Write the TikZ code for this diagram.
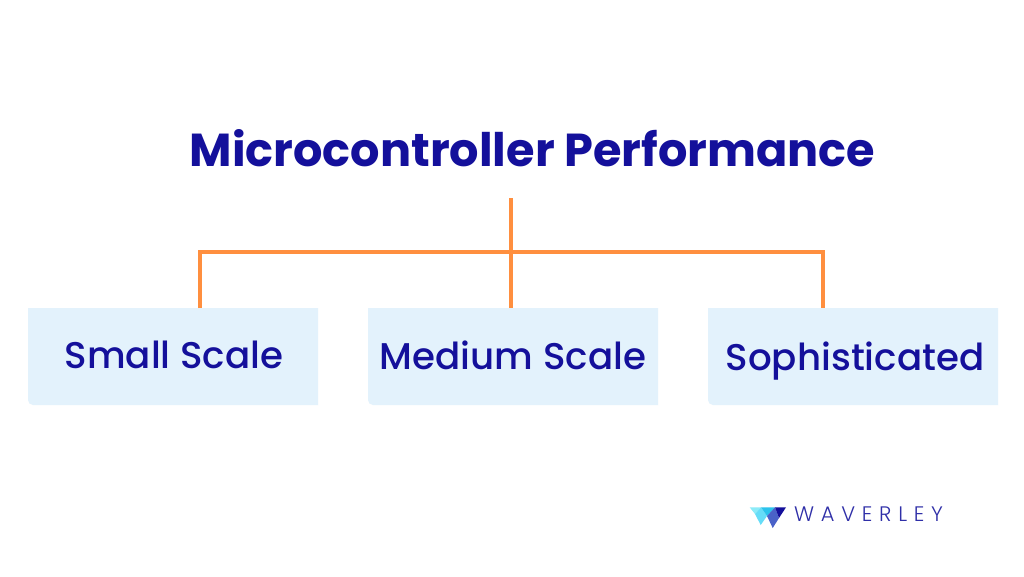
\documentclass[tikz,border=0pt]{standalone}
\usepackage{fontspec}
\setmainfont{Poppins}
\newfontfamily\logofont{Poppins Light}
\newfontfamily\boxfont{Poppins Medium}
\usetikzlibrary{backgrounds}
\definecolor{navy}{HTML}{14109B}
\definecolor{orangeline}{HTML}{FF8F3F}
\definecolor{boxfill}{HTML}{E3F2FC}
\definecolor{logotext}{HTML}{2F2FA8}
\definecolor{logoa}{HTML}{8CEBF8}
\definecolor{logob}{HTML}{66DDF8}
\definecolor{logoc}{HTML}{2CC3EC}
\definecolor{logod}{HTML}{4A62C8}
\tikzset{
  catbox/.style={minimum width=290pt,minimum height=97pt,inner sep=0pt,outer sep=0pt,text=navy,text height=23pt,text depth=0pt,font=\fontsize{37.2}{40}\selectfont\boxfont},
  link/.style={draw=orangeline,line width=4pt,line cap=butt,line join=miter},
}
\newcommand{\boxback}[1]{%
  \fill[boxfill] (#1.north west) -- (#1.north east) -- (#1.south east) -- ([xshift=5pt]#1.south west)
    arc[start angle=270,end angle=180,radius=5pt] -- cycle;}
\begin{document}
\begin{tikzpicture}[x=1pt,y=-1pt]
\useasboundingbox (0,0) rectangle (1024,576);
\node[text=navy,font=\fontsize{46.2}{50}\selectfont\bfseries,inner sep=0pt] (title) at (532.5,148) {Microcontroller Performance};
\node[catbox] (small) at (174,356.5) {Small Scale};
\node[catbox,xshift=0pt] (medium) at (513,356.5) {\raisebox{-1pt}{Medium Scale}};
\node[catbox] (soph) at (853,356.5) {\hspace{4pt}\raisebox{-2pt}{Sophisticated}};
\begin{scope}[on background layer]
\fill[white] (0,0) rectangle (1024,576);
\fill[boxfill] (28,308) -- (318,308) -- (318,405) -- (33,405) arc[start angle=270,end angle=180,radius=5pt] -- cycle;
\boxback{medium}
\boxback{soph}
\end{scope}
\coordinate (top) at (511,198);
\coordinate (l) at (200,252);
\coordinate (r) at (823,252);
\coordinate (ld) at (200,308);
\coordinate (md) at (511,308);
\coordinate (rd) at (823,308);
\draw[link] (top) -- (md);
\draw[link] (ld) -- (l) -- (r) -- (rd);
% logo
\fill[logoa] (749.7,507.3) -- (761,507.3) -- (755,514) -- cycle;
\fill[logob] (755,514) -- (761,507.3) -- (767,516) -- (760.7,525) -- cycle;
\fill[logoc] (761,507.3) -- (775,507.3) -- (767,516) -- cycle;
\fill[logod] (767,516) -- (775,507.3) -- (779,518) -- (772.7,528) -- cycle;
\fill[navy] (775,507.3) -- (786,507.3) -- (779,518) -- cycle;
\node[text=logotext,inner sep=0pt,font=\fontsize{21}{22}\selectfont\logofont\addfontfeatures{LetterSpace=32},anchor=west] (logo) at (794,514) {WAVERLEY};
\end{tikzpicture}
\end{document}
